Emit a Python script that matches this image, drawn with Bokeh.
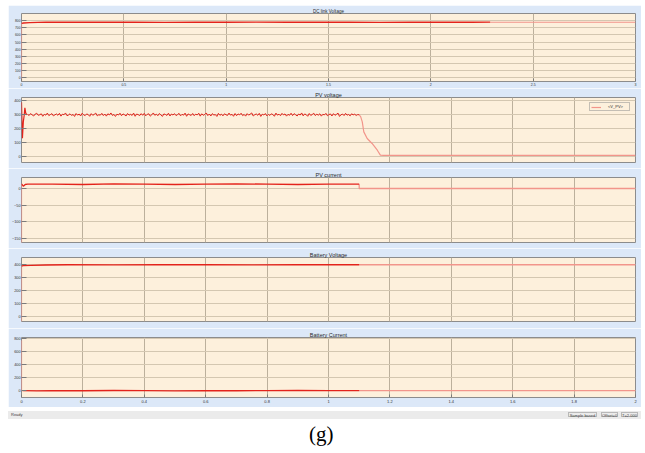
import numpy as np
from bokeh.plotting import figure
from bokeh.models import Range1d, FixedTicker, Legend, LegendItem, Div, Spacer
from bokeh.layouts import column, row
from bokeh.embed import file_html
from bokeh.resources import INLINE

# ---------------- data ----------------
# Panel 1: DC link Voltage (x 0..3)
dc_rise_t = [0.0, 0.0]
dc_rise_v = [-50, 762]
dc_on_t = [0.0, 0.01, 0.04, 0.08, 0.12, 0.25, 0.4, 0.55, 0.7, 0.85, 1.0, 1.15, 1.3, 1.45, 1.6, 1.75, 1.9, 2.05, 2.2, 2.29]
dc_on_v = [762, 768, 772, 776, 779, 777, 780, 778, 776, 779, 777, 780, 778, 777, 779, 776, 778, 780, 777, 779]
dc_off_t = [2.29, 3.0]
dc_off_v = [778, 778]

# Panel 2: PV voltage
pv_start_t = [0.0, 0.003, 0.006, 0.009, 0.011, 0.014, 0.018]
pv_start_v = [390, 130, 250, 300, 350, 310, 300]
pv_noise = [
    302, 295, 309, 298, 291, 305, 311, 296, 300, 307, 289, 303, 297, 312, 294, 301, 308, 292, 299, 306,
    296, 310, 290, 304, 300, 313, 293, 298, 307, 295, 302, 288, 309, 297, 305, 291, 311, 299, 294, 306,
    301, 289, 308, 296, 303, 312, 292, 300, 297, 310, 294, 305, 290, 307, 299, 313, 295, 302, 288, 304,
    298, 311, 293, 306, 300, 291, 309, 297, 303, 295, 312, 289, 305, 301, 294, 308, 296, 310, 292, 303,
    307, 290, 300, 313, 296, 304, 293, 309, 299, 288, 306, 302, 295, 311, 291, 305, 298, 308, 294, 301,
    310, 292, 303, 297, 312, 289, 306, 300, 295, 309, 293, 304, 299, 311, 290, 307, 296, 302, 313, 294,
    305, 291, 308, 298, 301, 288, 310, 296, 304, 292, 307, 300, 295, 312, 297, 303, 289, 309, 293, 306,
    299, 311, 294, 302, 290, 308, 297, 305, 313, 291, 300, 306, 296, 310, 288, 304, 298, 309, 292, 303,
    295, 307, 301, 289, 312, 297, 304, 293, 310, 299, 306, 290, 303, 296, 311, 294, 308, 300, 291, 305,
    298, 313, 292, 306, 300, 289, 309, 295, 302, 311, 294, 304, 297, 307, 290, 303, 299, 310, 293, 301,
    306, 291, 308, 296, 303, 312, 288, 300, 305, 294, 310, 297, 302, 292, 307, 299, 304, 295, 301, 300]
pv_noise_t = list(np.linspace(0.02, 1.10, len(pv_noise)))
pv_off_t = [1.10, 1.105, 1.110, 1.115, 1.126, 1.142, 1.159, 1.169, 1.18, 2.0]
pv_off_v = [300, 285, 248, 176, 128, 92, 43, 7, 5, 5]

# Panel 3: PV current
ipv_rise_t = [0.0, 0.0]
ipv_rise_v = [-170, 14]
ipv_on_t = [0.0, 0.006, 0.012, 0.02, 0.1, 0.2, 0.3, 0.4, 0.5, 0.6, 0.7, 0.8, 0.9, 1.0, 1.1]
ipv_on_v = [14, 7, 12, 13, 13, 12, 14, 13, 12, 13, 14, 13, 12, 13, 13]
ipv_off_t = [1.1, 1.1, 2.0]
ipv_off_v = [13, 0, 0]

# Panel 4: Battery Voltage
vb_rise_t = [0.0, 0.0]
vb_rise_v = [-35, 385]
vb_on_t = [0.0, 0.005, 0.03, 0.08, 0.15, 0.3, 0.45, 0.6, 0.75, 0.9, 1.0, 1.1]
vb_on_v = [385, 388, 391, 393, 395, 394, 396, 395, 394, 396, 395, 395]
vb_off_t = [1.1, 2.0]
vb_off_v = [395, 395]

# Panel 5: Battery Current
ib_rise_t = [0.0, 0.0]
ib_rise_v = [770, 0]
ib_on_t = [0.003, 0.05, 0.1, 0.2, 0.3, 0.4, 0.5, 0.6, 0.7, 0.8, 0.9, 1.0, 1.1]
ib_on_v = [5, 2, 6, 3, 7, 4, 2, 6, 3, 5, 7, 4, 5]
ib_off_t = [1.1, 2.0]
ib_off_v = [5, 5]

x_ticks_main = [0, 0.2, 0.4, 0.6, 0.8, 1, 1.2, 1.4, 1.6, 1.8, 2]
x_labels_main = ["0", "0.2", "0.4", "0.6", "0.8", "1", "1.2", "1.4", "1.6", "1.8", "2"]
x_ticks_top = [0, 0.5, 1, 1.5, 2, 2.5, 3]
x_labels_top = ["0", "0.5", "1", "1.5", "2", "2.5", "3"]

# ---------------- style ----------------
BLUE = "#dce8f8"
BEIGE = "#fdf0dc"
RED = "#e3231b"
LIGHT = "#f2958b"
GRIDX = "#bcb09c"
GRIDY = "#d4c7b1"
FONT = "Liberation Sans"
FIG_W = 633


def panel(title, h, top, bottom, left, xr, yr, yticks, xticks, xlabels,
          show_x, title_size, ylab_size, xlab_size):
    p = figure(width=FIG_W, height=h, x_range=Range1d(*xr), y_range=Range1d(*yr),
               output_backend="svg", toolbar_location=None,
               min_border_left=left, min_border_right=6,
               min_border_top=top, min_border_bottom=bottom,
               border_fill_color=BLUE, background_fill_color=BEIGE,
               outline_line_color="#8c8c8c", outline_line_width=1,
               title=title)
    p.title.align = "center"
    p.title.text_font = FONT
    p.title.text_font_size = title_size
    p.title.text_font_style = "normal"
    p.title.text_color = "#2a2a2a"
    p.title.standoff = 0
    p.title.offset = 0

    p.yaxis.ticker = FixedTicker(ticks=yticks)
    p.yaxis.major_label_text_font = FONT
    p.yaxis.major_label_text_font_size = ylab_size
    p.yaxis.major_label_text_color = "#333333"
    p.yaxis.major_label_standoff = 1
    p.yaxis.major_tick_in = 5
    p.yaxis.major_tick_out = 0
    p.yaxis.major_tick_line_color = "#7a7a7a"
    p.yaxis.minor_tick_line_color = None
    p.yaxis.axis_line_color = None

    p.xaxis.ticker = FixedTicker(ticks=xticks)
    p.xaxis.major_label_overrides = {t: l for t, l in zip(xticks, xlabels)}
    p.xaxis.major_label_text_font = FONT
    p.xaxis.major_label_text_font_size = xlab_size
    p.xaxis.major_label_text_color = "#333333"
    p.xaxis.major_label_standoff = 1
    p.xaxis.major_tick_in = 3
    p.xaxis.major_tick_out = 0
    p.xaxis.major_tick_line_color = "#7a7a7a"
    p.xaxis.minor_tick_line_color = None
    p.xaxis.axis_line_color = None
    if not show_x:
        p.xaxis.visible = False
    p.xgrid.ticker = FixedTicker(ticks=xticks)
    p.ygrid.ticker = FixedTicker(ticks=yticks)
    p.xgrid.grid_line_color = GRIDX
    p.ygrid.grid_line_color = GRIDY
    p.xgrid.grid_line_width = 1
    p.ygrid.grid_line_width = 1
    return p


p1 = panel("DC link Voltage", 83, 8, 5, 9, (0, 3), (-50, 900),
           [0, 100, 200, 300, 400, 500, 600, 700, 800], x_ticks_top, x_labels_top,
           True, "4.5px", "3.3px", "3.5px")
p1.line(dc_rise_t, dc_rise_v, line_color=LIGHT, line_width=1.2)
p1.line(dc_off_t, dc_off_v, line_color=LIGHT, line_width=1.2)
p1.line(dc_on_t, dc_on_v, line_color=RED, line_width=1.4)

p2 = panel("PV voltage", 80, 9, 6, 10, (0, 2), (-46, 425),
           [0, 100, 200, 300, 400], x_ticks_main, x_labels_main,
           False, "5.5px", "3.8px", "4px")
r_pv_off = p2.line(pv_off_t, pv_off_v, line_color=LIGHT, line_width=1.2)
p2.line(pv_start_t, pv_start_v, line_color=RED, line_width=1.2)
p2.line(pv_noise_t, pv_noise, line_color=RED, line_width=1.0)
leg = Legend(items=[LegendItem(label="<V_PV>", renderers=[r_pv_off])],
             location="top_right", orientation="vertical")
leg.label_text_font = FONT
leg.label_text_font_size = "4px"
leg.label_text_color = "#333333"
leg.label_height = 4
leg.label_standoff = 7
leg.glyph_width = 10
leg.glyph_height = 4
leg.padding = 1
leg.spacing = 0
leg.margin = 5
leg.border_line_color = "#8c8c8c"
leg.background_fill_color = BEIGE
leg.background_fill_alpha = 1
p2.add_layout(leg)

p3 = panel("PV current", 80, 9, 6, 10, (0, 2), (-162, 33),
           [-150, -100, -50, 0], x_ticks_main, x_labels_main,
           False, "5.5px", "3.8px", "4px")
p3.line(ipv_rise_t, ipv_rise_v, line_color=LIGHT, line_width=1.2)
p3.line(ipv_off_t, ipv_off_v, line_color=LIGHT, line_width=1.3)
p3.line(ipv_on_t, ipv_on_v, line_color=RED, line_width=1.3)

p4 = panel("Battery Voltage", 80, 9, 7, 10, (0, 2), (-35, 450),
           [0, 100, 200, 300, 400], x_ticks_main, x_labels_main,
           False, "5.5px", "3.8px", "4px")
p4.line(vb_rise_t, vb_rise_v, line_color=LIGHT, line_width=1.2)
p4.line(vb_off_t, vb_off_v, line_color=LIGHT, line_width=1.3)
p4.line(vb_on_t, vb_on_v, line_color=RED, line_width=1.3)

p5 = panel("Battery Current", 79, 9, 10, 10, (0, 2), (-100, 815),
           [0, 200, 400, 600, 800], x_ticks_main, x_labels_main,
           True, "5.5px", "3.8px", "4px")
p5.xaxis.major_label_standoff = 2
p5.line(ib_rise_t, ib_rise_v, line_color=LIGHT, line_width=1.2)
p5.line(ib_off_t, ib_off_v, line_color=LIGHT, line_width=1.3)
p5.line(ib_on_t, ib_on_v, line_color=RED, line_width=1.3)

status_html = (
    '<div style="position:relative;width:633px;height:8px;background:#ebebeb;'
    'font-family:\'Liberation Sans\',Arial,sans-serif;font-size:4px;color:#444;">'
    '<span style="position:absolute;left:3px;top:2px;line-height:4px;">Ready</span>'
    '<span style="position:absolute;left:560px;top:1px;width:29px;height:5px;line-height:5px;'
    'border:0.5px solid #b8b8b8;text-align:center;">Sample based</span>'
    '<span style="position:absolute;left:593px;top:1px;width:17px;height:5px;line-height:5px;'
    'border:0.5px solid #b8b8b8;text-align:center;">Offset=0</span>'
    '<span style="position:absolute;left:613px;top:1px;width:17px;height:5px;line-height:5px;'
    'border:0.5px solid #b8b8b8;text-align:center;">T=2.000</span>'
    '</div>'
)
status = Div(text=status_html, width=FIG_W, height=8, margin=0)

caption = Div(
    text='<div style="position:relative;width:645px;height:38px;">'
         '<span style="position:absolute;left:309px;top:9px;font-family:\'Liberation Serif\',serif;'
         'font-size:21px;line-height:21px;color:#000;">(g)</span></div>',
    width=645, height=38, margin=0)

scope = column(p1, p2, p3, p4, p5, status, spacing=0, margin=0)
root = column(Spacer(width=645, height=5, margin=0),
              row(Spacer(width=8, height=410, margin=0), scope, spacing=0, margin=0),
              caption, spacing=0, margin=0)

open("out.html", "w").write(file_html(root, INLINE))
